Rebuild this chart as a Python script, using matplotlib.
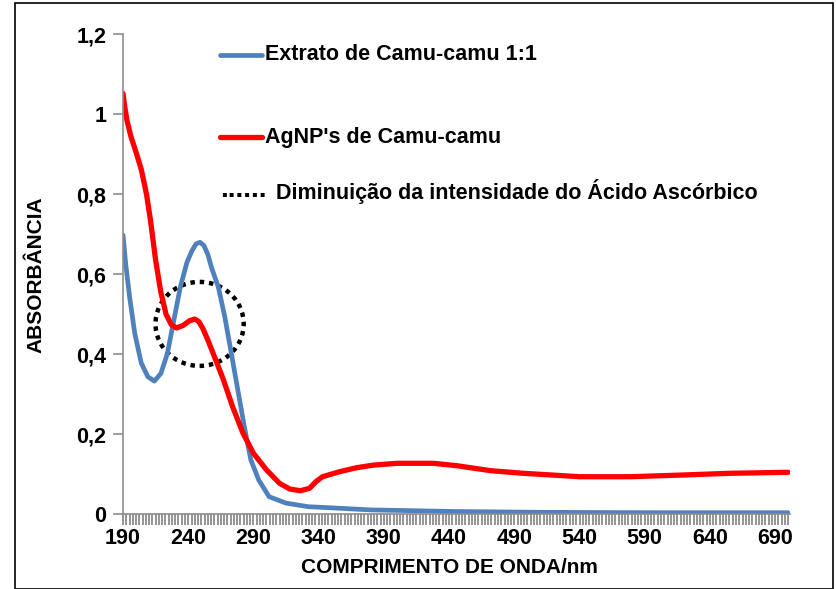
import numpy as np
import matplotlib
matplotlib.use('Agg')
import matplotlib.pyplot as plt
from matplotlib.patches import Ellipse, Rectangle
from matplotlib.ticker import MultipleLocator, FixedLocator

plt.rcParams['font.family'] = ['Liberation Sans', 'DejaVu Sans']
plt.rcParams['font.weight'] = 'bold'

# Extrato de Camu-camu 1:1
wl_extrato = [190, 192, 195, 199, 204, 209, 214, 219, 224, 229, 234, 239, 243, 246,
              249, 252, 255, 258, 263, 268, 273, 278, 283, 288, 294, 302, 315, 332,
              345, 380, 445, 510, 600, 700]
abs_extrato = [0.698, 0.627, 0.544, 0.452, 0.378, 0.344, 0.333, 0.352, 0.402, 0.486,
               0.569, 0.630, 0.660, 0.676, 0.680, 0.672, 0.650, 0.615, 0.569, 0.494,
               0.403, 0.311, 0.219, 0.136, 0.086, 0.044, 0.028, 0.019, 0.017, 0.011,
               0.007, 0.005, 0.004, 0.004]

# AgNP's de Camu-camu
wl_agnp = [190, 191, 193, 196, 200, 204, 208, 211, 215, 219, 223, 227, 231, 236, 241,
           245, 248, 251, 255, 259, 267, 274, 282, 290, 300, 310, 318, 326, 333, 338,
           343, 356, 369, 382, 400, 428, 446, 472, 497, 510, 540, 579, 617, 655, 700]
abs_agnp = [1.052, 1.025, 0.985, 0.945, 0.905, 0.862, 0.80, 0.736, 0.635, 0.555, 0.50,
            0.474, 0.466, 0.472, 0.484, 0.488, 0.482, 0.466, 0.436, 0.403, 0.336,
            0.269, 0.2025, 0.1525, 0.111, 0.0775, 0.063, 0.059, 0.065, 0.082, 0.094,
            0.1065, 0.1165, 0.123, 0.1275, 0.1275, 0.1215, 0.109, 0.1025, 0.10, 0.094,
            0.094, 0.098, 0.1025, 0.105]

x_labels = [190, 240, 290, 340, 390, 440, 490, 540, 590, 640, 690]
y_ticks = [0, 0.2, 0.4, 0.6, 0.8, 1.0, 1.2]
y_labels = ['0', '0,2', '0,4', '0,6', '0,8', '1', '1,2']

blue = '#4F81BD'
red = '#FF0000'
gray = '#8C8C8C'

fig = plt.figure(figsize=(8.37, 5.89), dpi=100)
ax = fig.add_axes([0.147, 0.1268, 0.797, 0.815])

ax.plot(wl_extrato, abs_extrato, color=blue, lw=3.4, solid_capstyle='round',
        solid_joinstyle='round')
ax.plot(wl_agnp, abs_agnp, color=red, lw=3.8, solid_capstyle='round',
        solid_joinstyle='round')

# dotted circle around the ascorbic acid band
circ = Ellipse((248.7, 0.476), 2 * 33.8, 2 * 0.105, fill=False, edgecolor='black',
               lw=3.2, linestyle=(0, (1, 1.1)))
ax.add_patch(circ)

ax.set_xlim(190, 701.5)
ax.set_ylim(0, 1.2)
ax.xaxis.set_major_locator(FixedLocator(x_labels))
ax.set_xticklabels([str(v) for v in x_labels])
ax.xaxis.set_minor_locator(MultipleLocator(2.5))
ax.set_yticks(y_ticks)
ax.set_yticklabels(y_labels)

for s in ['top', 'right']:
    ax.spines[s].set_visible(False)
for s in ['left', 'bottom']:
    ax.spines[s].set_color(gray)
    ax.spines[s].set_linewidth(1.2)

ax.tick_params(axis='x', which='both', direction='out', length=8, width=1.3,
               color=gray, labelsize=15.5, pad=2)
ax.tick_params(axis='y', direction='out', length=7, width=1.2, color=gray,
               labelsize=15.5, pad=5)

ax.set_xlabel('COMPRIMENTO DE ONDA/nm', fontsize=15, fontweight='bold')
ax.xaxis.set_label_coords(0.49, -0.09)
ax.set_ylabel('ABSORBÂNCIA', fontsize=15, fontweight='bold', labelpad=22)

# legend drawn as text items
fig.add_artist(plt.Line2D([220 / 837, 262 / 837], [1 - 55 / 589, 1 - 55 / 589],
                          color=blue, lw=3.4, solid_capstyle='round'))
fig.text(265 / 837, 1 - 55 / 589, 'Extrato de Camu-camu 1:1', fontsize=15.5,
         fontweight='bold', va='center', ha='left')
fig.add_artist(plt.Line2D([220 / 837, 262 / 837], [1 - 137 / 589, 1 - 137 / 589],
                          color=red, lw=3.8, solid_capstyle='round'))
fig.text(265 / 837, 1 - 137 / 589, "AgNP's de Camu-camu", fontsize=15.5,
         fontweight='bold', va='center', ha='left')
fig.text(220 / 837, 1 - 197 / 589, '......', fontsize=20, fontweight='bold',
         va='baseline', ha='left')
fig.text(276 / 837, 1 - 192 / 589, 'Diminuição da intensidade do Ácido Ascórbico',
         fontsize=15.5, fontweight='bold', va='center', ha='left')

# frame around the figure
fig.add_artist(Rectangle((15 / 837, 0.0), 818 / 837, 586 / 589, transform=fig.transFigure,
                         fill=False, edgecolor='black', lw=1.2))

fig.savefig('out.png', dpi=100)
